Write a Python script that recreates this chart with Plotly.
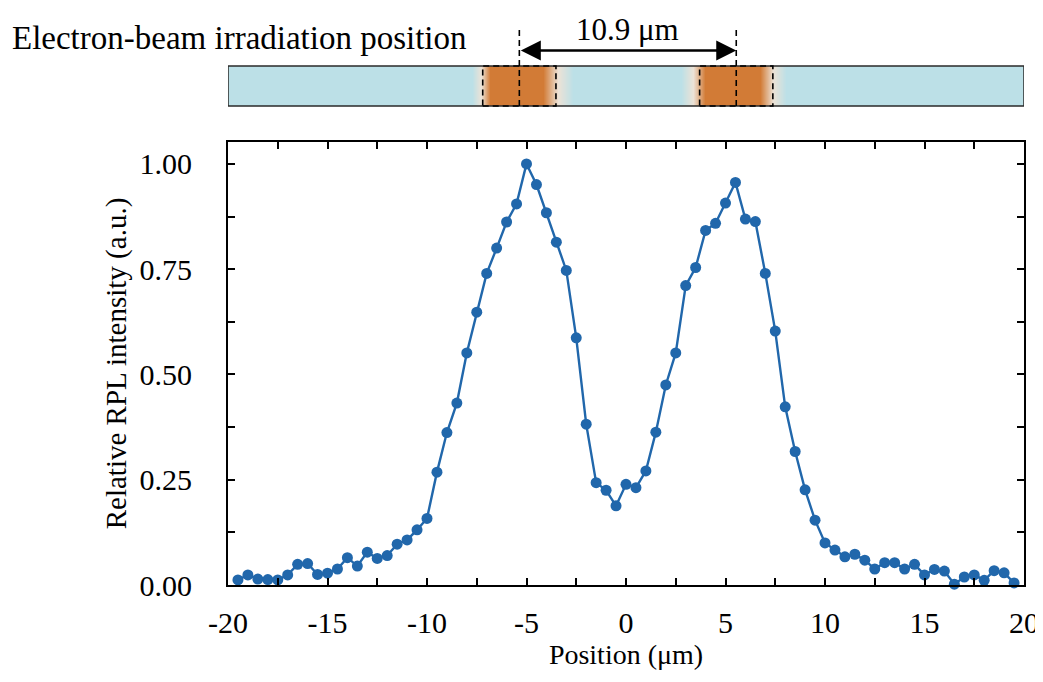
import plotly.graph_objects as go

# ---- data ----
position_um = [-19.5, -19.0, -18.5, -18.0, -17.5, -17.0, -16.5, -16.0, -15.5, -15.0,
               -14.5, -14.0, -13.5, -13.0, -12.5, -12.0, -11.5, -11.0, -10.5, -10.0,
               -9.5, -9.0, -8.5, -8.0, -7.5, -7.0, -6.5, -6.0, -5.5, -5.0,
               -4.5, -4.0, -3.5, -3.0, -2.5, -2.0, -1.5, -1.0, -0.5, 0.0,
               0.5, 1.0, 1.5, 2.0, 2.5, 3.0, 3.5, 4.0, 4.5, 5.0,
               5.5, 6.0, 6.5, 7.0, 7.5, 8.0, 8.5, 9.0, 9.5, 10.0,
               10.5, 11.0, 11.5, 12.0, 12.5, 13.0, 13.5, 14.0, 14.5, 15.0,
               15.5, 16.0, 16.5, 17.0, 17.5, 18.0, 18.5, 19.0, 19.5]
rpl_intensity = [0.012, 0.024, 0.014, 0.013, 0.012, 0.024, 0.049, 0.051, 0.025, 0.028,
                 0.038, 0.065, 0.045, 0.078, 0.063, 0.070, 0.097, 0.107, 0.131, 0.158,
                 0.268, 0.362, 0.432, 0.551, 0.648, 0.740, 0.800, 0.862, 0.905, 1.000,
                 0.951, 0.884, 0.814, 0.747, 0.587, 0.382, 0.243, 0.225, 0.188, 0.239,
                 0.231, 0.271, 0.363, 0.475, 0.551, 0.711, 0.754, 0.842, 0.859, 0.907,
                 0.956, 0.869, 0.863, 0.740, 0.603, 0.423, 0.317, 0.226, 0.154, 0.100,
                 0.083, 0.067, 0.073, 0.059, 0.038, 0.053, 0.053, 0.038, 0.049, 0.024,
                 0.037, 0.033, 0.002, 0.019, 0.024, 0.011, 0.034, 0.029, 0.005]

# irradiation bar: knot positions and irradiated level (0 = none, 1 = irradiated)
beam_knots = [-20.0, -7.75, -6.85, -4.15, -2.65, 2.75, 3.95, 6.75, 8.05, 20.0]
beam_levels = [0, 0, 1, 1, 0, 0, 1, 1, 0, 0]
beam_centers = [-5.36, 5.54]
beam_halfwidth = 1.84
separation_label = "10.9 μm"

x_tickvals = [-20, -17.5, -15, -12.5, -10, -7.5, -5, -2.5, 0, 2.5, 5, 7.5, 10, 12.5, 15, 17.5, 20]
x_ticktext = ["-20", "", "-15", "", "-10", "", "-5", "", "0", "", "5", "", "10", "", "15", "", "20"]
y_tickvals = [0, 0.125, 0.25, 0.375, 0.5, 0.625, 0.75, 0.875, 1.0]
y_ticktext = ["0.00", "", "0.25", "", "0.50", "", "0.75", "", "1.00"]

FONT = "Liberation Serif, Times New Roman, serif"
BLUE = "#2167ab"

# page body adds an 8px offset; geometry below is in screen pixels of the target
OFF = 8
W, H = 1043 - OFF, 682 - OFF
PLOT_L, PLOT_R, PLOT_T, PLOT_B = 228, 1024, 142, 585  # screen px
ML = PLOT_L - OFF
MR = W - (PLOT_R - OFF)
MT = 0
MB = H - (PLOT_B - OFF)
PH = H - MT - MB
PW = W - ML - MR


def sy(pix):
    return (PH - (pix - OFF)) / PH


def sx(pix):
    return ((pix - OFF) - ML) / PW


bar_bottom, bar_top = sy(106), sy(66)

fig = go.Figure()

fig.add_trace(go.Heatmap(
    x=beam_knots, y=[0, 1], z=[beam_levels, beam_levels],
    zsmooth="best", zmin=0, zmax=1, showscale=False, hoverinfo="skip",
    colorscale=[[0, "#bce0e7"], [0.5, "#ece2d6"], [1, "#d27b36"]],
    xaxis="x2", yaxis="y3",
))

fig.add_trace(go.Scatter(
    x=position_um, y=rpl_intensity, mode="lines+markers",
    line=dict(color=BLUE, width=2.4), marker=dict(color=BLUE, size=11),
    cliponaxis=False, showlegend=False,
))

axis_common = dict(showline=True, linecolor="black", linewidth=2, mirror="ticks",
                   ticks="inside", ticklen=7, tickwidth=2, tickcolor="black",
                   showgrid=False, zeroline=False,
                   tickfont=dict(family=FONT, size=30, color="black"))

fig.update_layout(
    width=W, height=H,
    margin=dict(l=ML, r=MR, t=MT, b=MB),
    paper_bgcolor="white", plot_bgcolor="white",
    showlegend=False,
    xaxis=dict(range=[-20, 20], tickmode="array", tickvals=x_tickvals, ticktext=x_ticktext,
               ticklabelstandoff=10,
               title=dict(text="Position (μm)", font=dict(family=FONT, size=28, color="black"), standoff=0),
               anchor="y", **axis_common),
    yaxis=dict(range=[0, 1.052], domain=[0, sy(PLOT_T)], tickmode="array", tickvals=y_tickvals,
               ticktext=y_ticktext, ticklabelstandoff=28,
               title=dict(text="Relative RPL intensity (a.u.)", font=dict(family=FONT, size=29, color="black"), standoff=4),
               anchor="x", **axis_common),
    xaxis2=dict(range=[-20, 20], visible=False, anchor="y3", fixedrange=True),
    yaxis3=dict(domain=[bar_bottom, bar_top], range=[0, 1], visible=False, anchor="x2",
                fixedrange=True),
)

shapes = []
# bar outline
shapes.append(dict(type="rect", xref="x", yref="paper", x0=-20, x1=20, y0=bar_bottom, y1=bar_top,
                   line=dict(color="#2a2a2a", width=1.5), layer="above"))
for c in beam_centers:
    shapes.append(dict(type="rect", xref="x", yref="paper", x0=c - beam_halfwidth, x1=c + beam_halfwidth,
                       y0=bar_bottom, y1=bar_top, line=dict(color="black", width=1.6, dash="6px,4px"),
                       layer="above"))
    shapes.append(dict(type="line", xref="x", yref="paper", x0=c, x1=c, y0=bar_bottom, y1=sy(30),
                       line=dict(color="black", width=1.6, dash="6px,4px"), layer="above"))
fig.update_layout(shapes=shapes)

annotations = [
    dict(xref="x", yref="paper", x=beam_centers[1], y=sy(50.5), axref="x", ayref="pixel",
         ax=beam_centers[0], ay=0, text="", showarrow=True, arrowside="end+start",
         arrowhead=2, startarrowhead=2, arrowsize=1.6, startarrowsize=1.6, arrowwidth=2.5,
         arrowcolor="black", standoff=0, startstandoff=0),
    dict(xref="x", yref="paper", x=sum(beam_centers) / 2, y=sy(29.5), text=separation_label,
         showarrow=False, xanchor="center", yanchor="middle",
         font=dict(family=FONT, size=31, color="black")),
    dict(xref="paper", yref="paper", x=sx(10), y=sy(38),
         text="Electron-beam irradiation position", showarrow=False, xanchor="left", yanchor="middle",
         font=dict(family=FONT, size=33, color="black")),
]
fig.update_layout(annotations=annotations)

fig.write_html("out.html")
